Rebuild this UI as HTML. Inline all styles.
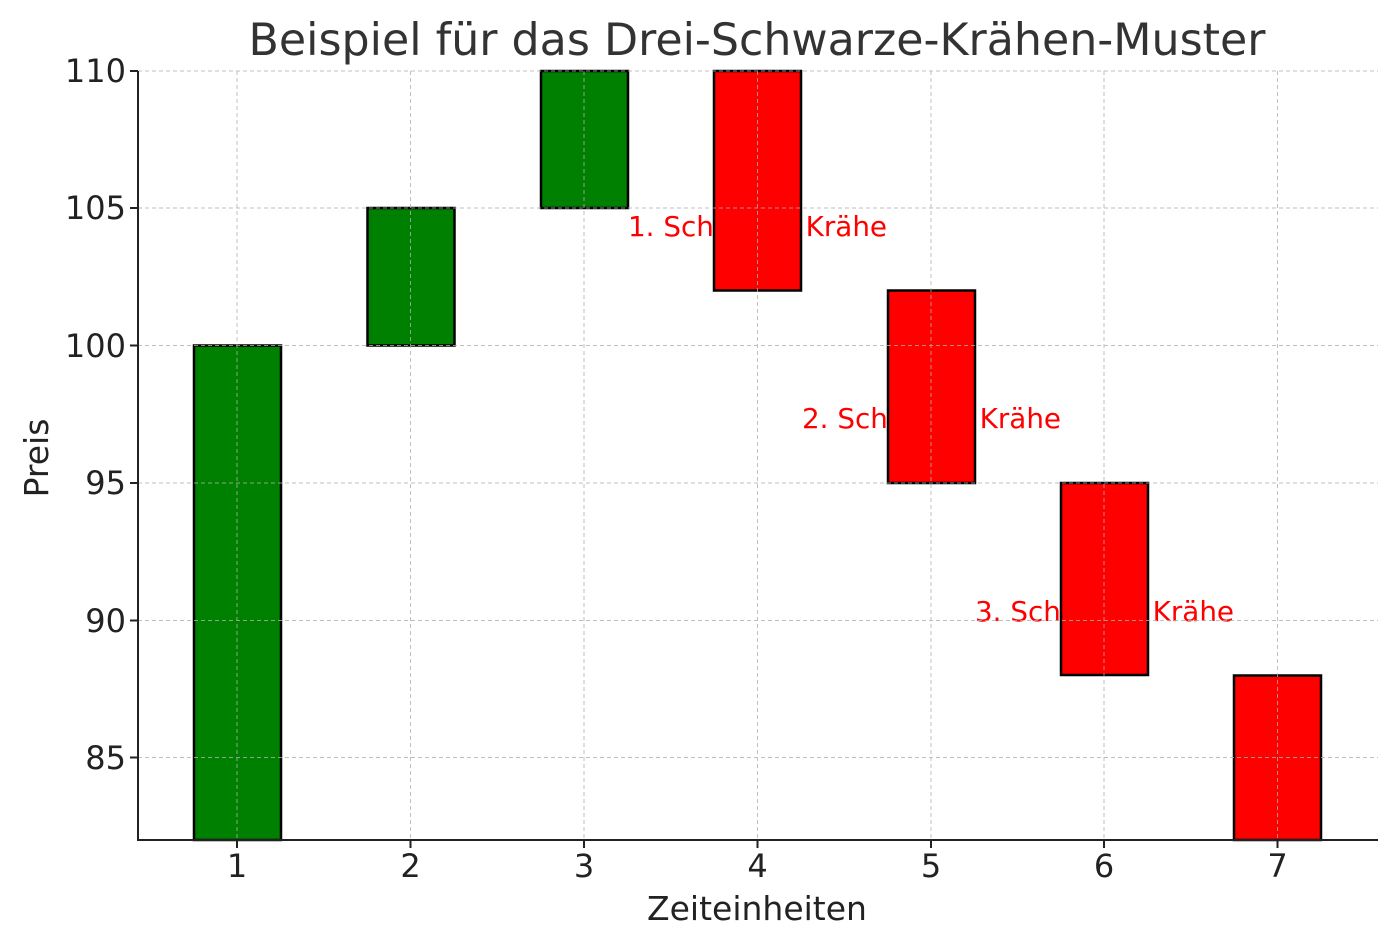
<!DOCTYPE html>
<html><head><meta charset="utf-8"><style>body{margin:0;background:#fff}svg{display:block}text{font-family:"DejaVu Sans","Liberation Sans",sans-serif}</style></head>
<body>
<svg width="1397" height="947" viewBox="0 0 1397 947" xmlns="http://www.w3.org/2000/svg">
<rect width="1397" height="947" fill="#fff"/>
<text x="757" y="55" font-size="44.3" fill="#333" text-anchor="middle">Beispiel für das Drei-Schwarze-Krähen-Muster</text>
<g font-size="27.8" fill="red">
<text x="628" y="236">1. Schwarze Krähe</text>
<text x="802" y="428">2. Schwarze Krähe</text>
<text x="975" y="621">3. Schwarze Krähe</text>
</g>
<g stroke="#000" stroke-width="2.5">
<rect x="194" y="345.5" width="87" height="494.5" fill="green"/>
<rect x="367.5" y="208" width="87" height="137.5" fill="green"/>
<rect x="541" y="71" width="87" height="137" fill="green"/>
<rect x="714" y="71" width="87" height="219.5" fill="red"/>
<rect x="888" y="290.5" width="87" height="192.5" fill="red"/>
<rect x="1061" y="483" width="87" height="192" fill="red"/>
<rect x="1234" y="675.5" width="87" height="164.5" fill="red"/>
</g>
<g stroke="#b0b0b0" stroke-width="1" stroke-dasharray="4,3" opacity="0.8">
<line x1="138" x2="1378" y1="71" y2="71"/>
<line x1="138" x2="1378" y1="208" y2="208"/>
<line x1="138" x2="1378" y1="345.5" y2="345.5"/>
<line x1="138" x2="1378" y1="483" y2="483"/>
<line x1="138" x2="1378" y1="620.5" y2="620.5"/>
<line x1="138" x2="1378" y1="757.5" y2="757.5"/>
<line x1="237" x2="237" y1="71" y2="840"/>
<line x1="410.5" x2="410.5" y1="71" y2="840"/>
<line x1="584" x2="584" y1="71" y2="840"/>
<line x1="757.5" x2="757.5" y1="71" y2="840"/>
<line x1="931" x2="931" y1="71" y2="840"/>
<line x1="1104" x2="1104" y1="71" y2="840"/>
<line x1="1277.5" x2="1277.5" y1="71" y2="840"/>
</g>
<g stroke="#222" stroke-width="2">
<line x1="138" x2="138" y1="71" y2="841"/>
<line x1="137" x2="1378" y1="840" y2="840"/>
<line x1="130" x2="138" y1="71" y2="71"/>
<line x1="130" x2="138" y1="208" y2="208"/>
<line x1="130" x2="138" y1="345.5" y2="345.5"/>
<line x1="130" x2="138" y1="483" y2="483"/>
<line x1="130" x2="138" y1="620.5" y2="620.5"/>
<line x1="130" x2="138" y1="757.5" y2="757.5"/>
<line x1="237" x2="237" y1="840" y2="848"/>
<line x1="410.5" x2="410.5" y1="840" y2="848"/>
<line x1="584" x2="584" y1="840" y2="848"/>
<line x1="757.5" x2="757.5" y1="840" y2="848"/>
<line x1="931" x2="931" y1="840" y2="848"/>
<line x1="1104" x2="1104" y1="840" y2="848"/>
<line x1="1277.5" x2="1277.5" y1="840" y2="848"/>
</g>
<g font-size="32" fill="#222" text-anchor="end">
<text x="126" y="82">110</text>
<text x="126" y="219">105</text>
<text x="126" y="357">100</text>
<text x="126" y="494">95</text>
<text x="126" y="632">90</text>
<text x="126" y="769">85</text>
</g>
<g font-size="32" fill="#222" text-anchor="middle">
<text x="237" y="877">1</text>
<text x="410.5" y="877">2</text>
<text x="584" y="877">3</text>
<text x="757.5" y="877">4</text>
<text x="931" y="877">5</text>
<text x="1104" y="877">6</text>
<text x="1277.5" y="877">7</text>
<text x="757" y="920" font-size="33">Zeiteinheiten</text>
<text transform="translate(48,458) rotate(-90)" font-size="33">Preis</text>
</g>
</svg>
</body></html>
